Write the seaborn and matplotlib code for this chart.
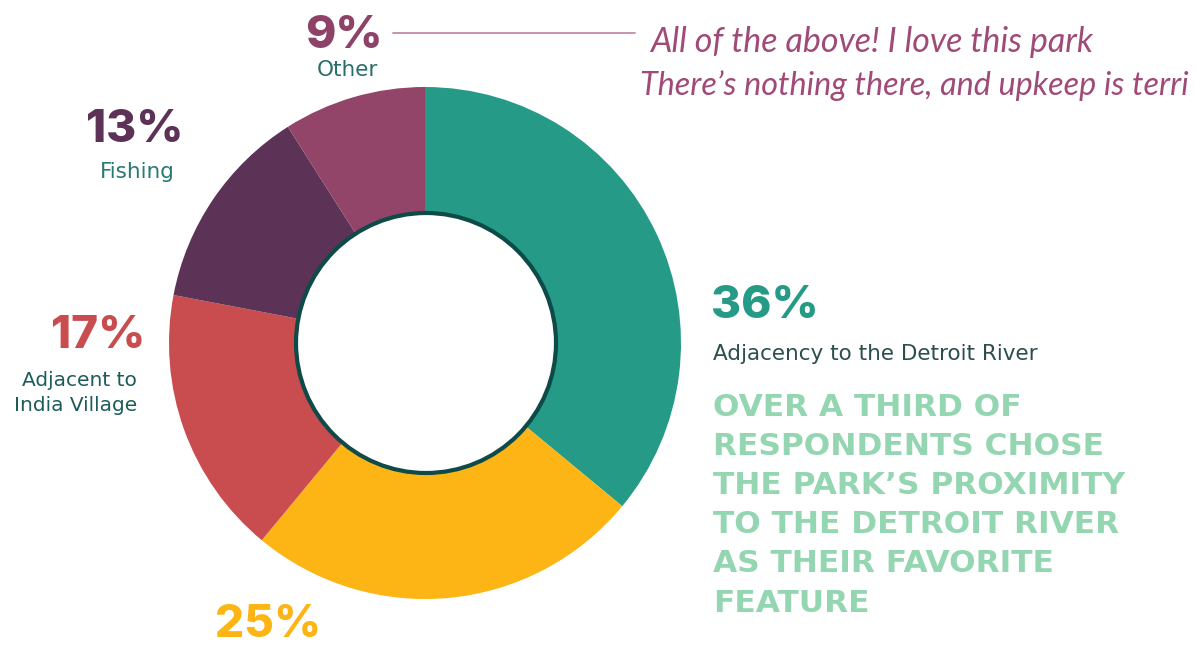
import matplotlib
matplotlib.use("Agg")
import matplotlib.pyplot as plt
import seaborn as sns
from matplotlib.patches import Circle

# ---- data ----
categories = ["Adjacency to the Detroit River", "", "Adjacent to\nIndia Village", "Fishing", "Other"]
values = [36, 25, 17, 13, 9]
colors = ["#259a87", "#fdb515", "#c94c4f", "#5c3357", "#924569"]
pct_labels = [f"{v}%" for v in values]
quotes = ["All of the above! I love this park",
          "There\u2019s nothing there, and upkeep is terri"]
headline = ["OVER A THIRD OF", "RESPONDENTS CHOSE", "THE PARK\u2019S PROXIMITY",
            "TO THE DETROIT RIVER", "AS THEIR FAVORITE", "FEATURE"]

sns.set_theme(style="white")
plt.rcParams["font.family"] = ["Inter", "DejaVu Sans"]

W, H = 1196, 646
fig = plt.figure(figsize=(W / 100, H / 100), dpi=100)
ax = fig.add_axes([0, 0, 1, 1])

def Y(y):
    return H - y

cx, cy, R, r_in = 425, 343, 256, 129
ax.pie(values, colors=colors, startangle=90, counterclock=False,
       center=(cx, Y(cy)), radius=R,
       wedgeprops=dict(width=R - r_in, edgecolor="none", linewidth=0))
ax.add_patch(Circle((cx + 1, Y(cy)), r_in + 1, facecolor="white",
                    edgecolor="#0e4b48", linewidth=3.0, zorder=5))
ax.set_xlim(0, W)
ax.set_ylim(0, H)
ax.set_aspect("equal")
ax.axis("off")

pct_font = dict(family=["Inter", "DejaVu Sans"], fontweight="heavy", fontsize=33)
lab_font = dict(family=["DejaVu Sans"], fontsize=15.5)

# 36% teal (label on the right)
ax.text(711, Y(306), pct_labels[0], color=colors[0], ha="left", va="center", **pct_font)
ax.text(713, Y(354), categories[0], color="#2b4f4c", ha="left", va="center", **lab_font)
# 25% yellow
ax.text(268, Y(625), pct_labels[1], color=colors[1], ha="center", va="center", **pct_font)
# 17% red
ax.text(98, Y(336), pct_labels[2], color=colors[2], ha="center", va="center", **pct_font)
ax.text(137, Y(393), categories[2], color="#1d5c5a", ha="right", va="center",
        multialignment="right", family=["DejaVu Sans"], fontsize=14.5, linespacing=1.45)
# 13% purple
ax.text(135, Y(130), pct_labels[3], color=colors[3], ha="center", va="center", **pct_font)
ax.text(137, Y(172), categories[3], color="#2a7a72", ha="center", va="center", **lab_font)
# 9% mauve
ax.text(344, Y(36), pct_labels[4], color="#8e4268", ha="center", va="center", **pct_font)
ax.text(347, Y(70), categories[4], color="#2a6e6a", ha="center", va="center", **lab_font)

# connector line and quotes
ax.plot([393, 635], [Y(33), Y(33)], color="#c48aa8", linewidth=1.3)
ax.text(650, Y(42), quotes[0], color="#a04a78", ha="left", va="center",
        family=["Lato", "DejaVu Sans"], fontstyle="italic", fontsize=24.5)
ax.text(640, Y(86), quotes[1], color="#a04a78", ha="left", va="center",
        family=["Lato", "DejaVu Sans"], fontstyle="italic", fontsize=23.3)

# headline
for i, line in enumerate(headline):
    ax.text(713, Y(407 + 39.2 * i), line, color="#93d6b1", ha="left", va="center",
            family=["DejaVu Sans"], fontweight="bold", fontsize=22.5)

fig.savefig("out.png", dpi=100, facecolor="white")
